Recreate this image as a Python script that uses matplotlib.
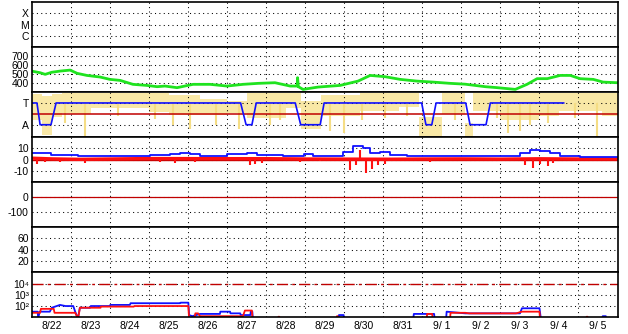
import numpy as np
import matplotlib
matplotlib.use('Agg')
import matplotlib.pyplot as plt
from matplotlib.ticker import FixedLocator, NullLocator

plt.rcParams['font.family'] = ['Liberation Sans', 'DejaVu Sans']
plt.rcParams['axes.unicode_minus'] = False
plt.rcParams['lines.scale_dashes'] = False

# x axis: days since 8/22 00:00
day_labels = ['8/22', '8/23', '8/24', '8/25', '8/26', '8/27', '8/28', '8/29',
              '8/30', '8/31', '9/ 1', '9/ 2', '9/ 3', '9/ 4', '9/ 5']
n_days = 15

# panel 2 (green)
green = [(0.02, 530), (0.2, 515), (0.33, 497), (0.5, 520), (0.71, 533), (0.97, 544),
         (1.15, 508), (1.4, 485), (1.74, 467), (1.99, 441), (2.25, 430), (2.58, 386),
         (2.94, 374), (3.2, 360), (3.4, 367), (3.71, 349), (4.12, 386), (4.56, 386),
         (4.99, 367), (5.4, 386), (5.79, 397), (6.22, 404), (6.61, 367), (6.79, 367),
         (6.8, 460), (6.82, 360), (6.94, 330), (7.33, 356), (7.89, 374), (8.35, 422),
         (8.66, 485), (9.04, 471), (9.43, 441), (9.86, 422), (10.27, 411), (10.71, 397),
         (11.09, 388), (11.61, 360), (11.92, 349), (12.38, 330), (12.68, 386),
         (12.94, 449), (13.2, 449), (13.53, 485), (13.79, 485), (14.04, 449),
         (14.38, 441), (14.63, 411), (14.99, 404)]

# panel 3 (T / A)
state = [(0, 1), (0.12, 1), (0.2, 0), (0.48, 0), (0.61, 1), (5.34, 1), (5.48, 0),
         (5.63, 0), (5.74, 1), (6.74, 1), (6.88, 0), (7.38, 0), (7.48, 1), (9.98, 1),
         (10.09, 0), (10.24, 0), (10.35, 1), (11.11, 1), (11.22, 0), (11.63, 0),
         (11.74, 1), (13.62, 1)]
yellow_t = [0, 0.25, 0.5, 0.75, 1.0, 1.5, 3.0, 3.5, 4.3, 5.0, 5.5, 6.5, 6.9, 7.4,
            8.4, 9.4, 9.9, 10.5, 11.1, 11.3, 12.0, 13.0, 13.5, 14.6, 15.0]
yellow_hi = [1.4, 1.3, 1.4, 1.45, 1.45, 1.45, 1.45, 1.38, 1.2, 1.1, 1.45, 1.45, 1.1,
             1.35, 1.45, 1.45, 0.35, 1.45, 0.1, 1.45, 1.45, 1.45, 1.45, 1.45, 1.45]
yellow_lo = [0.2, -0.45, 0.35, 0.55, 0.5, 0.75, 0.6, 0.45, 0.45, 0.55, 0.3, 0.75,
             -0.2, 0.4, 0.65, 0.8, -0.57, 0.5, -0.57, 0.65, 0.2, 0.4, 0.65, 0.4, 0.4]
streak_t = [0.85, 1.35, 2.2, 3.15, 3.6, 4.05, 4.7, 5.3, 6.1, 6.35, 7.63, 8.0, 8.45,
            9.04, 9.6, 10.84, 11.9, 12.2, 12.5, 12.76, 13.22, 13.9, 14.48]
streak_lo = [0.1, -0.5, 0.4, 0.25, 0.0, -0.2, 0.0, -0.2, 0.0, 0.2, -0.3, -0.4, 0.2,
             0.3, 0.4, 0.2, 0.3, -0.4, -0.3, 0.0, 0.1, 0.3, -0.5]

# panel 4
blue4 = [(0.0, 5.8), (0.47, 4.3), (1.16, 2.8), (3.02, 4.3), (3.53, 4.9), (3.79, 6.3),
         (4.05, 5.2), (4.3, 3.4), (5.0, 5.2), (5.51, 6.3), (5.77, 4.3), (6.43, 3.4),
         (6.97, 4.9), (7.2, 3.6), (7.97, 7.2), (8.22, 12.3), (8.48, 10.2), (8.66, 6.3),
         (8.92, 7.2), (9.18, 4.3), (9.61, 2.8), (12.5, 6.3), (12.76, 8.7), (13.02, 7.8),
         (13.28, 5.8), (13.53, 3.4), (14.04, 2.2), (15.0, 2.2)]
red4 = [(0, 1.3), (0.5, 0.7), (1.2, 0.3), (3.0, 1.0), (5.0, 0.9), (6.0, 0.9),
        (7.0, 0.6), (8.0, 0.5), (9.2, 0.4), (10, 0.6), (11, 0.7), (12, 0.5),
        (13, 0.8), (14, 0.6), (15, 0.6)]
red4_spike_t = [0.12, 0.33, 0.71, 1.35, 3.28, 3.66, 4.17, 5.58, 5.71, 5.88, 6.87,
                7.38, 8.15, 8.3, 8.41, 8.55, 8.71, 8.87, 9.04, 10.2, 12.63, 12.84,
                13.02, 13.22, 13.35]
red4_spike_v = [-3.5, -2.5, -1.7, -2.6, -2.5, -3.1, -2.0, -4.6, -4.0, -3.0, -1.7,
                -1.5, -9, -5, 8.7, -11.5, -8, -4.6, -3.5, -1.8, -4.6, -7.5, -4,
                -6, -3]

# panel 7 (log10 of value)
blue7 = [(0.0, 1.5), (0.14, 1.5), (0.15, 0.9), (0.19, 1.5), (0.45, 1.5), (0.5, 1.85),
         (0.71, 2.1), (0.85, 2.0), (1.05, 2.0), (1.1, 1.5), (1.17, 0.9), (1.22, 1.85),
         (1.48, 1.85), (1.5, 2.0), (1.99, 2.0), (2.0, 2.1), (2.5, 2.1), (2.52, 2.25),
         (3.79, 2.25), (3.8, 2.3), (4.0, 2.3), (4.02, 1.2), (4.1, 1.1), (4.3, 1.3),
         (4.81, 1.3), (4.82, 1.5), (5.07, 1.5), (5.08, 1.35), (5.33, 1.35), (5.34, 1.2),
         (5.59, 1.2), (5.6, 1.5), (5.64, 1.5), (5.66, 0.5), (7.85, 0.5), (7.86, 1.2),
         (7.98, 1.2), (8.0, 0.5), (9.75, 0.5), (9.78, 1.3), (10.3, 1.3), (10.32, 0.5),
         (10.6, 0.5), (10.62, 1.5), (11.1, 1.35), (12.5, 1.35), (12.55, 1.8), (13.0, 1.8),
         (13.05, 0.5), (14.6, 0.5), (14.62, 1.1), (14.7, 1.1), (14.72, 0.5), (15.0, 0.5)]
red7 = [(0, 1.4), (0.2, 1.4), (0.22, 1.75), (0.55, 1.75), (0.57, 1.4), (1.1, 1.4),
        (1.17, 0.9), (1.2, 1.4), (1.22, 1.85), (1.75, 1.85), (1.76, 1.95), (2.6, 1.95),
        (2.62, 2.0), (4.0, 2.0), (4.02, 0.8), (4.15, 0.8), (4.18, 1.35), (4.25, 1.35),
        (4.3, 1.1), (5.4, 1.1), (5.45, 1.6), (5.63, 1.6), (5.65, 0.5), (6.3, 0.5),
        (6.31, 1.05), (6.33, 1.05), (6.34, 0.5), (7.8, 0.5), (7.81, 1.1), (7.83, 1.1),
        (7.84, 0.5), (10.1, 0.5), (10.12, 1.3), (10.25, 1.3), (10.27, 0.5), (10.7, 0.5),
        (10.72, 1.4), (11.1, 1.4), (11.2, 1.35), (12.4, 1.35), (12.55, 1.5), (13.0, 1.5),
        (13.02, 0.5), (14.2, 0.5), (14.21, 1.05), (14.23, 1.05), (14.24, 0.5), (15, 0.5)]

GREEN = '#1fe31f'
BLUE = '#1010ff'
RED = '#ff1010'
DARKRED = '#c00000'
dotted = (0, (0.75, 2.4))

fig = plt.figure(figsize=(6.28, 3.34), dpi=100)
axes = fig.subplots(7, 1, sharex=True, gridspec_kw=dict(hspace=0))
fig.subplots_adjust(left=0.0514, right=0.9833, top=0.994, bottom=0.05)

ax0, ax1, ax2, ax3, ax4, ax5, ax6 = axes

# panel 1
ax0.set_ylim(0, 4)
ax0.set_yticks([3, 2, 1], ['X', 'M', 'C'])

# panel 2
g = np.array(green).T
ax1.plot(g[0], g[1], color=GREEN, lw=2.0)
ax1.set_ylim(300, 800)
ax1.set_yticks([700, 600, 500, 400])

# panel 3
ax2.fill_between(yellow_t, yellow_lo, yellow_hi, step='post', color='#f9e8a6', lw=0)
ax2.vlines(streak_t, streak_lo, 1.0, color='#f5dd84', lw=1.5)
ax2.axhline(0.5, color=DARKRED, lw=1.1)
s = np.array(state).T
ax2.plot(s[0], s[1], color=BLUE, lw=1.2)
ax2.set_ylim(-0.57, 1.5)
ax2.set_yticks([1, 0], ['T', 'A'])

# panel 4
ax3.axhline(0, color=DARKRED, lw=1.0)
r4 = np.array(red4).T
ax3.plot(r4[0], r4[1], color=RED, lw=2.4)
ax3.vlines(red4_spike_t, 0.5, red4_spike_v, color=RED, lw=1.5)
b4 = np.array(blue4).T
ax3.plot(b4[0], b4[1], color=BLUE, lw=1.3, drawstyle='steps-post')
ax3.set_ylim(-20, 20)
ax3.set_yticks([10, 0, -10])

# panel 5
ax4.axhline(0, color=DARKRED, lw=0.9)
ax4.set_ylim(-200, 100)
ax4.set_yticks([0, -100])

# panel 6
ax5.set_ylim(0, 80)
ax5.set_yticks([60, 40, 20])

# panel 7
ax6.set_yscale('log')
ax6.axhline(1e4, color=DARKRED, lw=1.0, ls=(0, (8, 3, 2, 3)))
b7 = np.array(blue7).T
r7 = np.array(red7).T
ax6.plot(b7[0], 10 ** b7[1], color=BLUE, lw=1.3)
ax6.plot(r7[0], 10 ** r7[1], color=RED, lw=1.3)
ax6.set_ylim(10, 1e5)
ax6.yaxis.set_major_locator(FixedLocator([1e4, 1e3, 1e2]))
ax6.yaxis.set_minor_locator(NullLocator())
ax6.set_yticklabels(['10\u2074', '10\u00b3', '10\u00b2'])

for ax in axes:
    ax.set_xlim(0, n_days)
    ax.xaxis.set_major_locator(FixedLocator(np.arange(n_days) + 0.5))
    ax.xaxis.set_minor_locator(FixedLocator(np.arange(1, n_days)))
    ax.grid(axis='x', which='minor', color='black', lw=0.75, ls=dotted)
    ax.grid(axis='y', which='major', color='black', lw=0.75, ls=dotted)
    ax.tick_params(which='both', length=0, labelsize=7.5, pad=2.5)
    for sp in ax.spines.values():
        sp.set_linewidth(1.2)
ax6.set_xticklabels(day_labels)

fig.savefig('out.png', dpi=100)
